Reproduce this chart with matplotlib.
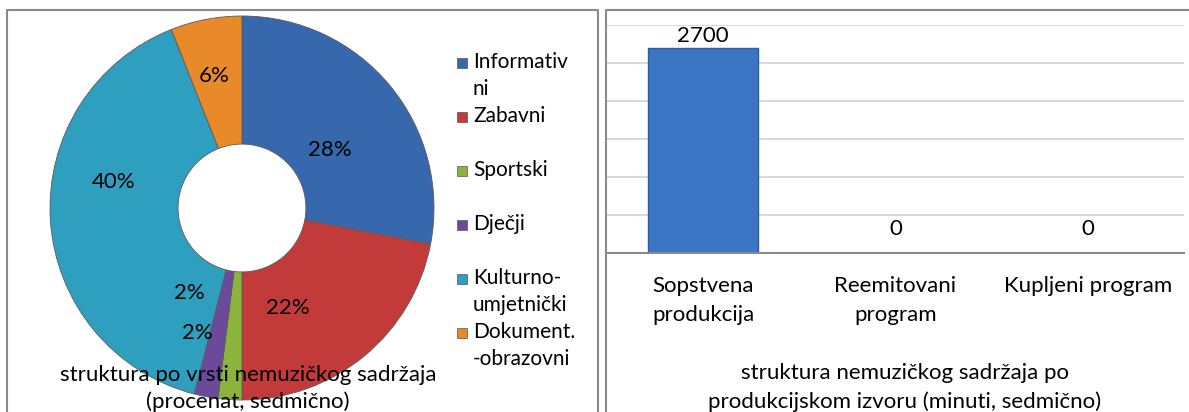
import matplotlib.pyplot as plt
import numpy as np
from matplotlib.lines import Line2D

plt.rcParams['font.family'] = ['Lato', 'DejaVu Sans']

# left chart: share by content type
types = ["Informativ\nni", "Zabavni", "Sportski", "Dječji",
         "Kulturno-\numjetnički", "Dokument.\n-obrazovni"]
shares = [28, 22, 2, 2, 40, 6]
type_colors = ["#3767ad", "#c23b3a", "#8cb43c", "#6b4a9c", "#2f9fc0", "#e8892a"]

# right chart: minutes by production source
sources = ["Sopstvena\nprodukcija", "Reemitovani\nprogram", "Kupljeni program"]
minutes = [2700, 0, 0]

W, H = 1189, 412
fig = plt.figure(figsize=(W / 100, H / 100), dpi=100)


def px_line(xs, ys):
    fig.add_artist(Line2D([x / W for x in xs], [1 - y / H for y in ys],
                          transform=fig.transFigure, color="#8a8a8a", lw=1.5))


# panel borders
px_line([7, 7, 598, 598], [420, 10, 10, 420])
px_line([606, 606, 1189], [420, 10, 10])

# ---- donut ----
cx, cy, r = 242, 208, 192
ax1 = fig.add_axes([(cx - r) / W, (H - cy - r) / H, 2 * r / W, 2 * r / H])
wedges, _ = ax1.pie(shares, colors=type_colors, startangle=90, counterclock=False,
                    radius=1, wedgeprops=dict(width=0.667, edgecolor="#5a5a5a", lw=0.6))
ax1.set_xlim(-1, 1)
ax1.set_ylim(-1, 1)
ax1.set_aspect("auto")

# label placement (radius, angle shift in degrees) tuned per slice
label_pos = [(0.55, 6), (0.57, 15), (0.52, 28), (0.69, 9), (0.68, 15), (0.70, -1)]
start = 90.0
for val, (lr, shift) in zip(shares, label_pos):
    mid = start - val * 3.6 / 2 - shift
    start -= val * 3.6
    a = np.deg2rad(mid)
    ax1.text(lr * np.cos(a), lr * np.sin(a), f"{val}%", ha="center", va="center",
             fontsize=16)

# legend, Excel style: evenly spaced entries, marker on first line
for i, (lab, col) in enumerate(zip(types, type_colors)):
    y = 63 + 54 * i
    fig.patches.append(plt.Rectangle((457 / W, 1 - (y + 5) / H), 10 / W, 10 / H,
                                     transform=fig.transFigure, facecolor=col,
                                     edgecolor="#555555", lw=0.5))
    fig.text(473 / W, 1 - (y - 11) / H, lab, ha="left", va="top", fontsize=15,
             linespacing=1.45)

fig.text(248 / W, 1 - 375 / H, "struktura po vrsti nemuzičkog sadržaja",
         ha="center", va="center", fontsize=16)
fig.text(248 / W, 1 - 402 / H, "(procenat, sedmično)",
         ha="center", va="center", fontsize=16)

# ---- bar chart ----
ax2 = fig.add_axes([607 / W, 1 - 253 / H, 577 / W, 228 / H])
xs = np.arange(len(sources))
ax2.bar(xs, minutes, width=0.57, color="#3b76c4", edgecolor="#2c5d9e", lw=1)
ax2.set_xlim(-0.5, 2.5)
ax2.set_ylim(0, 3000)
ax2.set_yticks(np.arange(500, 3001, 500))
ax2.yaxis.grid(True, color="#d9d9d9", lw=1.5)
ax2.set_axisbelow(True)
ax2.tick_params(left=False, labelleft=False, bottom=False)
for s in ["top", "right", "left"]:
    ax2.spines[s].set_visible(False)
ax2.spines["bottom"].set_color("#8a8a8a")
ax2.spines["bottom"].set_linewidth(1.5)
ax2.set_xticks(xs)
ax2.set_xticklabels(sources, fontsize=16, linespacing=1.55)
ax2.tick_params(axis="x", pad=13)
for x, v in zip(xs, minutes):
    ax2.text(x, min(v + 316, 2855), f"{v}", ha="center", va="center", fontsize=16)

fig.text(905 / W, 1 - 373 / H, "struktura nemuzičkog sadržaja po",
         ha="center", va="center", fontsize=16)
fig.text(905 / W, 1 - 402 / H, "produkcijskom izvoru (minuti, sedmično)",
         ha="center", va="center", fontsize=16)

fig.savefig("out.png", dpi=100)
